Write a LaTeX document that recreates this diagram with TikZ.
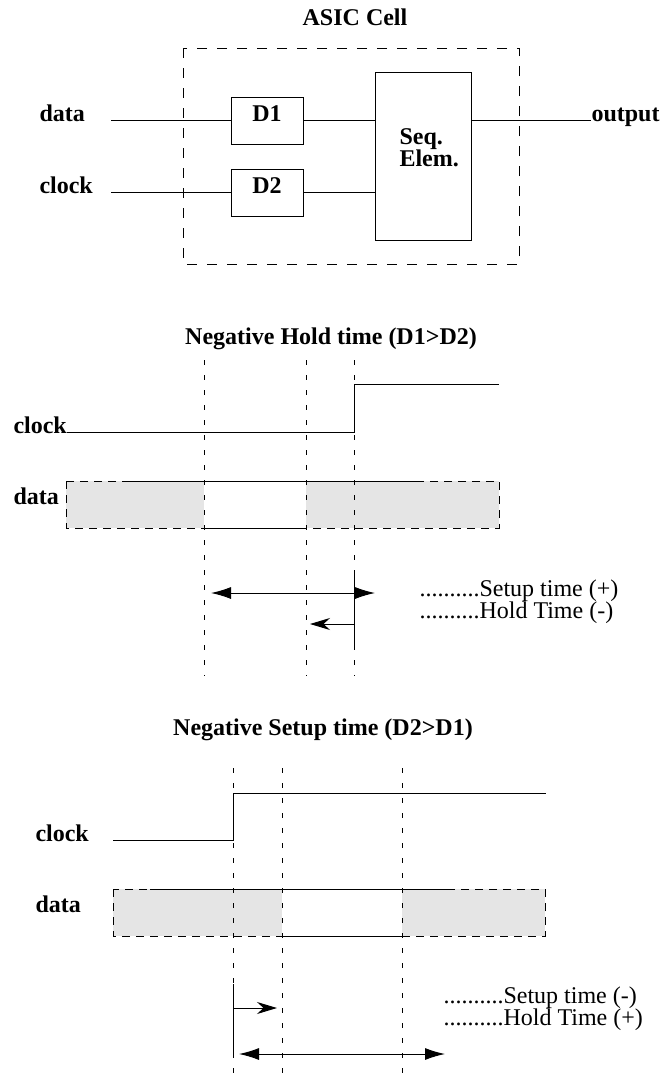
\documentclass[tikz,border=0pt]{standalone}
\usepackage{fontspec}
\setmainfont{Liberation Serif}
\usetikzlibrary{arrows.meta,positioning}

\begin{document}
\begin{tikzpicture}[x=1pt,y=-1pt,line width=1pt,
	lbl/.style={font=\fontsize{24}{22}\selectfont\bfseries,inner sep=0pt},
	txt/.style={font=\fontsize{24}{22}\selectfont,inner sep=0pt,align=left},
	blk/.style={draw,inner sep=0pt,text height=24pt,text depth=23pt,minimum width=72pt},
	cellbox/.style={dash pattern=on 10pt off 10pt},
	busedge/.style={dash pattern=on 8pt off 6pt},
	marker/.style={dash pattern=on 5pt off 10pt},
	shade/.style={fill=gray!20},
	dbl/.style={{Latex[length=20pt,width=12pt]}-{Latex[length=20pt,width=12pt]}},
	sgl/.style={-{Stealth[length=20pt,width=12pt]}}]
		
		\useasboundingbox (0,0) rectangle (662,1082);
		
		\node[lbl,anchor=base] (cell) at (355,25) {ASIC Cell};
		
		\draw[cellbox] (183,48) rectangle (519,264);
		
		\node[blk,lbl] (D1) at (267,120.5) {D1};
		
		\node[blk,lbl] (D2) at (267,192.5) {D2};
		
		\node[draw,inner sep=0pt,minimum width=96pt,minimum height=168pt] (seq) at (423,156) {};
		
		\node[lbl,align=left,anchor=north west] (seqtxt) at (399,128) {Seq.\\Elem.};
		
		\node[lbl,anchor=base west] (din) at (39,121) {data};
		
		\node[lbl,anchor=base west] (cin) at (39,193) {clock};
		
		\node[lbl,anchor=base west] (out) at (591,121) {output};
		
		\coordinate (dstart) at (111,120.5);
		\coordinate (cstart) at (111,192.5);
		
		\draw (dstart) -- (D1.west);
		\draw (cstart) -- (D2.west);
		\draw (D1.east) -- (D1.east -| seq.west);
		\draw (D2.east) -- (D2.east -| seq.west);
		\draw (D1.east -| seq.east) -- (D1.east -| out.west);
		
		\node[lbl,anchor=base] (hold) at (331,344) {Negative Hold time (D1>D2)};
		
		\fill[shade] (66,481) rectangle (204,528);
		\fill[shade] (306,481) rectangle (499,528);
		\draw[busedge] (66,481) rectangle (499,528);
		\draw (130,481) -- (418,481);
		\draw (204,528) -- (306,528);
		
		\foreach \x in {204,306,354}
		\draw[marker] (\x,360) -- (\x,676);
		
		\node[lbl,anchor=base west] (hclk) at (13,433) {clock};
		
		\node[lbl,anchor=base west] (hdat) at (13,504) {data};
		
		\coordinate (hrise) at (354,432);
		\coordinate (hhigh) at (499,384);
		
		\draw (hclk.base east |- hrise) -- (hrise) |- (hhigh);
		
		\coordinate (hA) at (211,593);
		\coordinate (hB) at (375,593);
		\coordinate (hC) at (354,575);
		\coordinate (hD) at (354,648);
		\coordinate (hE) at (310,624);
		
		\draw[dbl] (hA) -- (hB);
		\draw (hC) -- (hD);
		\draw[sgl] (hC |- hE) -- (hE);
		
		\node[txt,anchor=north west] (hnote) at (419,579) {..........Setup time (+)\\..........Hold Time (-)};
		
		\node[lbl,anchor=base] (setup) at (323,735) {Negative Setup time (D2>D1)};
		
		\fill[shade] (113,889) rectangle (282,936);
		\fill[shade] (402,889) rectangle (545,936);
		\draw[busedge] (113,889) rectangle (545,936);
		\draw (150,889) -- (448,889);
		\draw (282,936) -- (402,936);
		
		\foreach \x in {233,282,402}
		\draw[marker] (\x,768) -- (\x,1080);
		
		\node[lbl,anchor=base west] (sclk) at (35,841) {clock};
		
		\node[lbl,anchor=base west] (sdat) at (35,912) {data};
		
		\coordinate (slow) at (113,840);
		\coordinate (srise) at (233,840);
		\coordinate (shigh) at (546,793);
		
		\draw (slow) -- (srise) |- (shigh);
		
		\coordinate (sA) at (233,984);
		\coordinate (sB) at (233,1053);
		\coordinate (sC) at (277,1008);
		\coordinate (sD) at (239,1054);
		\coordinate (sE) at (445,1054);
		
		\draw (sA) -- (sB);
		\draw[sgl] (sA |- sC) -- (sC);
		\draw[dbl] (sD) -- (sE);
		
		\node[txt,anchor=north west] (snote) at (443,986) {..........Setup time (-)\\..........Hold Time (+)};
		
	\end{tikzpicture}
\end{document}
